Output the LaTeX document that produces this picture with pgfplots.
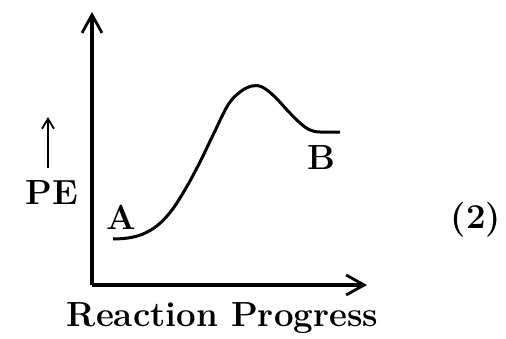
\documentclass[border=0pt]{standalone}
\usepackage{pgfplots}
\pgfplotsset{compat=1.18}
\usetikzlibrary{arrows.meta}

\tikzset{lab/.style={font=\fontsize{35}{40}\selectfont\bfseries, inner sep=0pt}}

\begin{document}
\begin{tikzpicture}
\begin{axis}[
  width=275bp, height=273bp, scale only axis,
  xmin=0, xmax=275, ymin=0, ymax=273,
  axis lines=left,
  axis line style={line width=3.3bp, -{Straight Barb[length=18bp,width=20bp,line width=2.8bp]}},
  xtick=\empty, ytick=\empty,
  clip=false,
]
% potential energy along the reaction coordinate
\addplot[black, line width=3bp, smooth, tension=0.6] coordinates {
  (21,46) (36,47) (51,51) (66,60) (80,75) (94,97) (108,123) (122,152)
  (136,180) (148,193) (160,199) (170,198) (182,189) (196,174) (208,162)
  (218,155) (228,153) (248,153)
};
\node[lab, anchor=base] at (axis cs:29.5,55) {A};
\node[lab, anchor=base] at (axis cs:229.5,115) {B};
\node[lab, anchor=base] at (axis cs:-40,80) {PE};
\draw[line width=1.8bp, -{Straight Barb[length=10bp,width=12bp,line width=1.8bp]}]
  (axis cs:-44,117) -- (axis cs:-44,168);
\node[lab, anchor=base] at (axis cs:130.5,-41) {Reaction Progress};
\node[lab, anchor=base] at (axis cs:384,56) {(2)};
\coordinate (bl) at (axis cs:-92,-54);
\coordinate (tr) at (axis cs:414,285);
\end{axis}
\path (bl) rectangle (tr);
\end{tikzpicture}
\end{document}
